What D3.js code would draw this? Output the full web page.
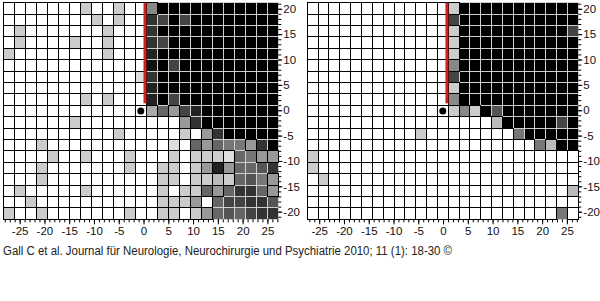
<!DOCTYPE html>
<html lang="en">
<head>
<meta charset="UTF-8">
<script src="https://cdnjs.cloudflare.com/ajax/libs/d3/7.8.5/d3.min.js"></script>
<style>
  body { margin: 0; background: #fff; }
  svg { display: block; font-family: "Liberation Sans", Arial, sans-serif; }
</style>
</head>
<body>
<div id="container"></div>
<script>
// gray level of each perimetry cell, one hex digit per cell (f = white ... 0 = black)
// 19 rows top -> bottom, 25 columns left -> right
const leftField = [
  "fffffffcffcff800000000000",
  "ffffffffcfcff340400000000",
  "fcfffffffcfff300000000000",
  "fcffffcffcfff340000000000",
  "cffffffffcfff200000000000",
  "fffffffffffff104000000000",
  "ffffffffffffd300000000000",
  "fffffffffffff200000000000",
  "fffffffcfcfff204000000000",
  "fffffffffffffa69420000000",
  "ffffffcfffffffff930000000",
  "ffffffffffcfffffcf9300000",
  "fffcfffffffffffdf69677930",
  "ffffcffcfffcfffcfcccd6799",
  "fffcfffffffcffccfc9296653",
  "fffcffffffffffccfccbc6579",
  "fcfffffcffffffcfcc6963369",
  "ffcfffffffffffccc9f644335",
  "cffcfffffffcffccfc9656433"
];
const rightField = [
  "fffffffffffffc00000000000",
  "fffffffffffff400000000000",
  "fffffffffffffc00000000004",
  "fffffffffffffc00000000000",
  "fffffffffffffc00000000000",
  "fffffffffffff800000000000",
  "fffffffffffff400000000000",
  "fffffffffffffc00000000000",
  "fffffffffffff800000000000",
  "fffffffffffffc8c050000000",
  "fffffffffffffffffb0000040",
  "ffffffffffcffffffff700000",
  "fffffffffffffffffffff7b00",
  "cffffffffffffffffffffffff",
  "cffffffffffffffffffffffff",
  "fcfffffffffffffffffffffff",
  "ffffffffffffffffffffffffb",
  "fffffffffffffffffffffffff",
  "fffffffffffffffffffffff7f"
];
const xTicks = [-25, -20, -15, -10, -5, 0, 5, 10, 15, 20, 25];
const yTicks = [20, 15, 10, 5, 0, -5, -10, -15, -20];
const fixation = { col: 12, row: 9 };
const caption = "Gall C et al. Journal für Neurologie, Neurochirurgie und Psychiatrie 2010; 11 (1): 18-30 ©";

const width = 600, height = 301;
const gridTop = 2.7, gridBottom = 219.3;

const panels = [
  { field: leftField, left: 3.3, right: 278.3, xDomain: [-28.3, 27.2] },
  { field: rightField, left: 307.3, right: 578.3, xDomain: [-27.4, 27.3] }
];

const svg = d3.select("#container").append("svg")
  .attr("width", width)
  .attr("height", height);

const y = d3.scaleLinear().domain([-21.5, 21.2]).range([gridBottom, gridTop]);
const rowBand = d3.scaleBand().domain(d3.range(19)).range([gridTop, gridBottom]);

panels.forEach(p => {
  const cells = [];
  p.field.forEach((row, r) => {
    row.split("").forEach((c, col) => cells.push({ row: r, col: col, level: parseInt(c, 16) }));
  });

  const x = d3.scaleLinear().domain(p.xDomain).range([p.left, p.right]);
  const colBand = d3.scaleBand().domain(d3.range(25)).range([p.left, p.right]);

  const g = svg.append("g");

  // dark cells first so the black lines of light cells stay on top
  cells.sort((a, b) => a.level - b.level);
  g.selectAll("rect.cell")
    .data(cells)
    .enter().append("rect")
    .attr("class", "cell")
    .attr("x", d => colBand(d.col))
    .attr("y", d => rowBand(d.row))
    .attr("width", colBand.bandwidth())
    .attr("height", rowBand.bandwidth())
    .attr("fill", d => { const h = d.level.toString(16); return "#" + h + h + h + h + h + h; })
    .attr("stroke", d => d.level < 8 ? "#cfcfcf" : "#000")
    .attr("stroke-width", 1)
    .attr("shape-rendering", "crispEdges");

  // vertical meridian (red) above fixation
  g.append("rect")
    .attr("x", colBand(fixation.col + 1) - 2.8)
    .attr("y", rowBand(0))
    .attr("width", 3)
    .attr("height", rowBand(fixation.row) - rowBand(0) - 2)
    .attr("fill", "#cc2222");

  // fixation point
  g.append("circle")
    .attr("cx", colBand(fixation.col) + colBand.bandwidth() / 2)
    .attr("cy", rowBand(fixation.row) + rowBand.bandwidth() / 2)
    .attr("r", 3.5)
    .attr("fill", "#000");

  // x axis: minor ticks every degree, labels every 5
  const minorX = d3.range(Math.ceil(p.xDomain[0]), Math.floor(p.xDomain[1]) + 1);
  g.append("g")
    .attr("transform", `translate(0,${gridBottom})`)
    .call(d3.axisBottom(x).tickValues(minorX).tickSize(3).tickFormat(""))
    .call(a => a.select(".domain").remove());
  g.append("g")
    .attr("transform", `translate(0,${gridBottom})`)
    .call(d3.axisBottom(x).tickValues(xTicks).tickSize(5).tickPadding(3).tickFormat(d => String(d)))
    .call(a => a.select(".domain").remove())
    .call(a => a.selectAll("text").attr("font-size", 11.5).attr("font-family", null).attr("fill", "#111"));

  // y axis on the right side
  const minorY = d3.range(-21, 22);
  g.append("g")
    .attr("transform", `translate(${p.right},0)`)
    .call(d3.axisRight(y).tickValues(minorY).tickSize(3).tickFormat(""))
    .call(a => a.select(".domain").remove());
  g.append("g")
    .attr("transform", `translate(${p.right},0)`)
    .call(d3.axisRight(y).tickValues(yTicks).tickSize(4).tickPadding(1).tickFormat(d => String(d)))
    .call(a => a.select(".domain").remove())
    .call(a => a.selectAll("text").attr("font-size", 11.5).attr("font-family", null).attr("fill", "#111"));
});

svg.append("text")
  .attr("x", 3)
  .attr("y", 255)
  .attr("font-size", 12)
  .attr("fill", "#222")
  .attr("textLength", 449)
  .attr("lengthAdjust", "spacingAndGlyphs")
  .text(caption);
</script>
</body>
</html>
